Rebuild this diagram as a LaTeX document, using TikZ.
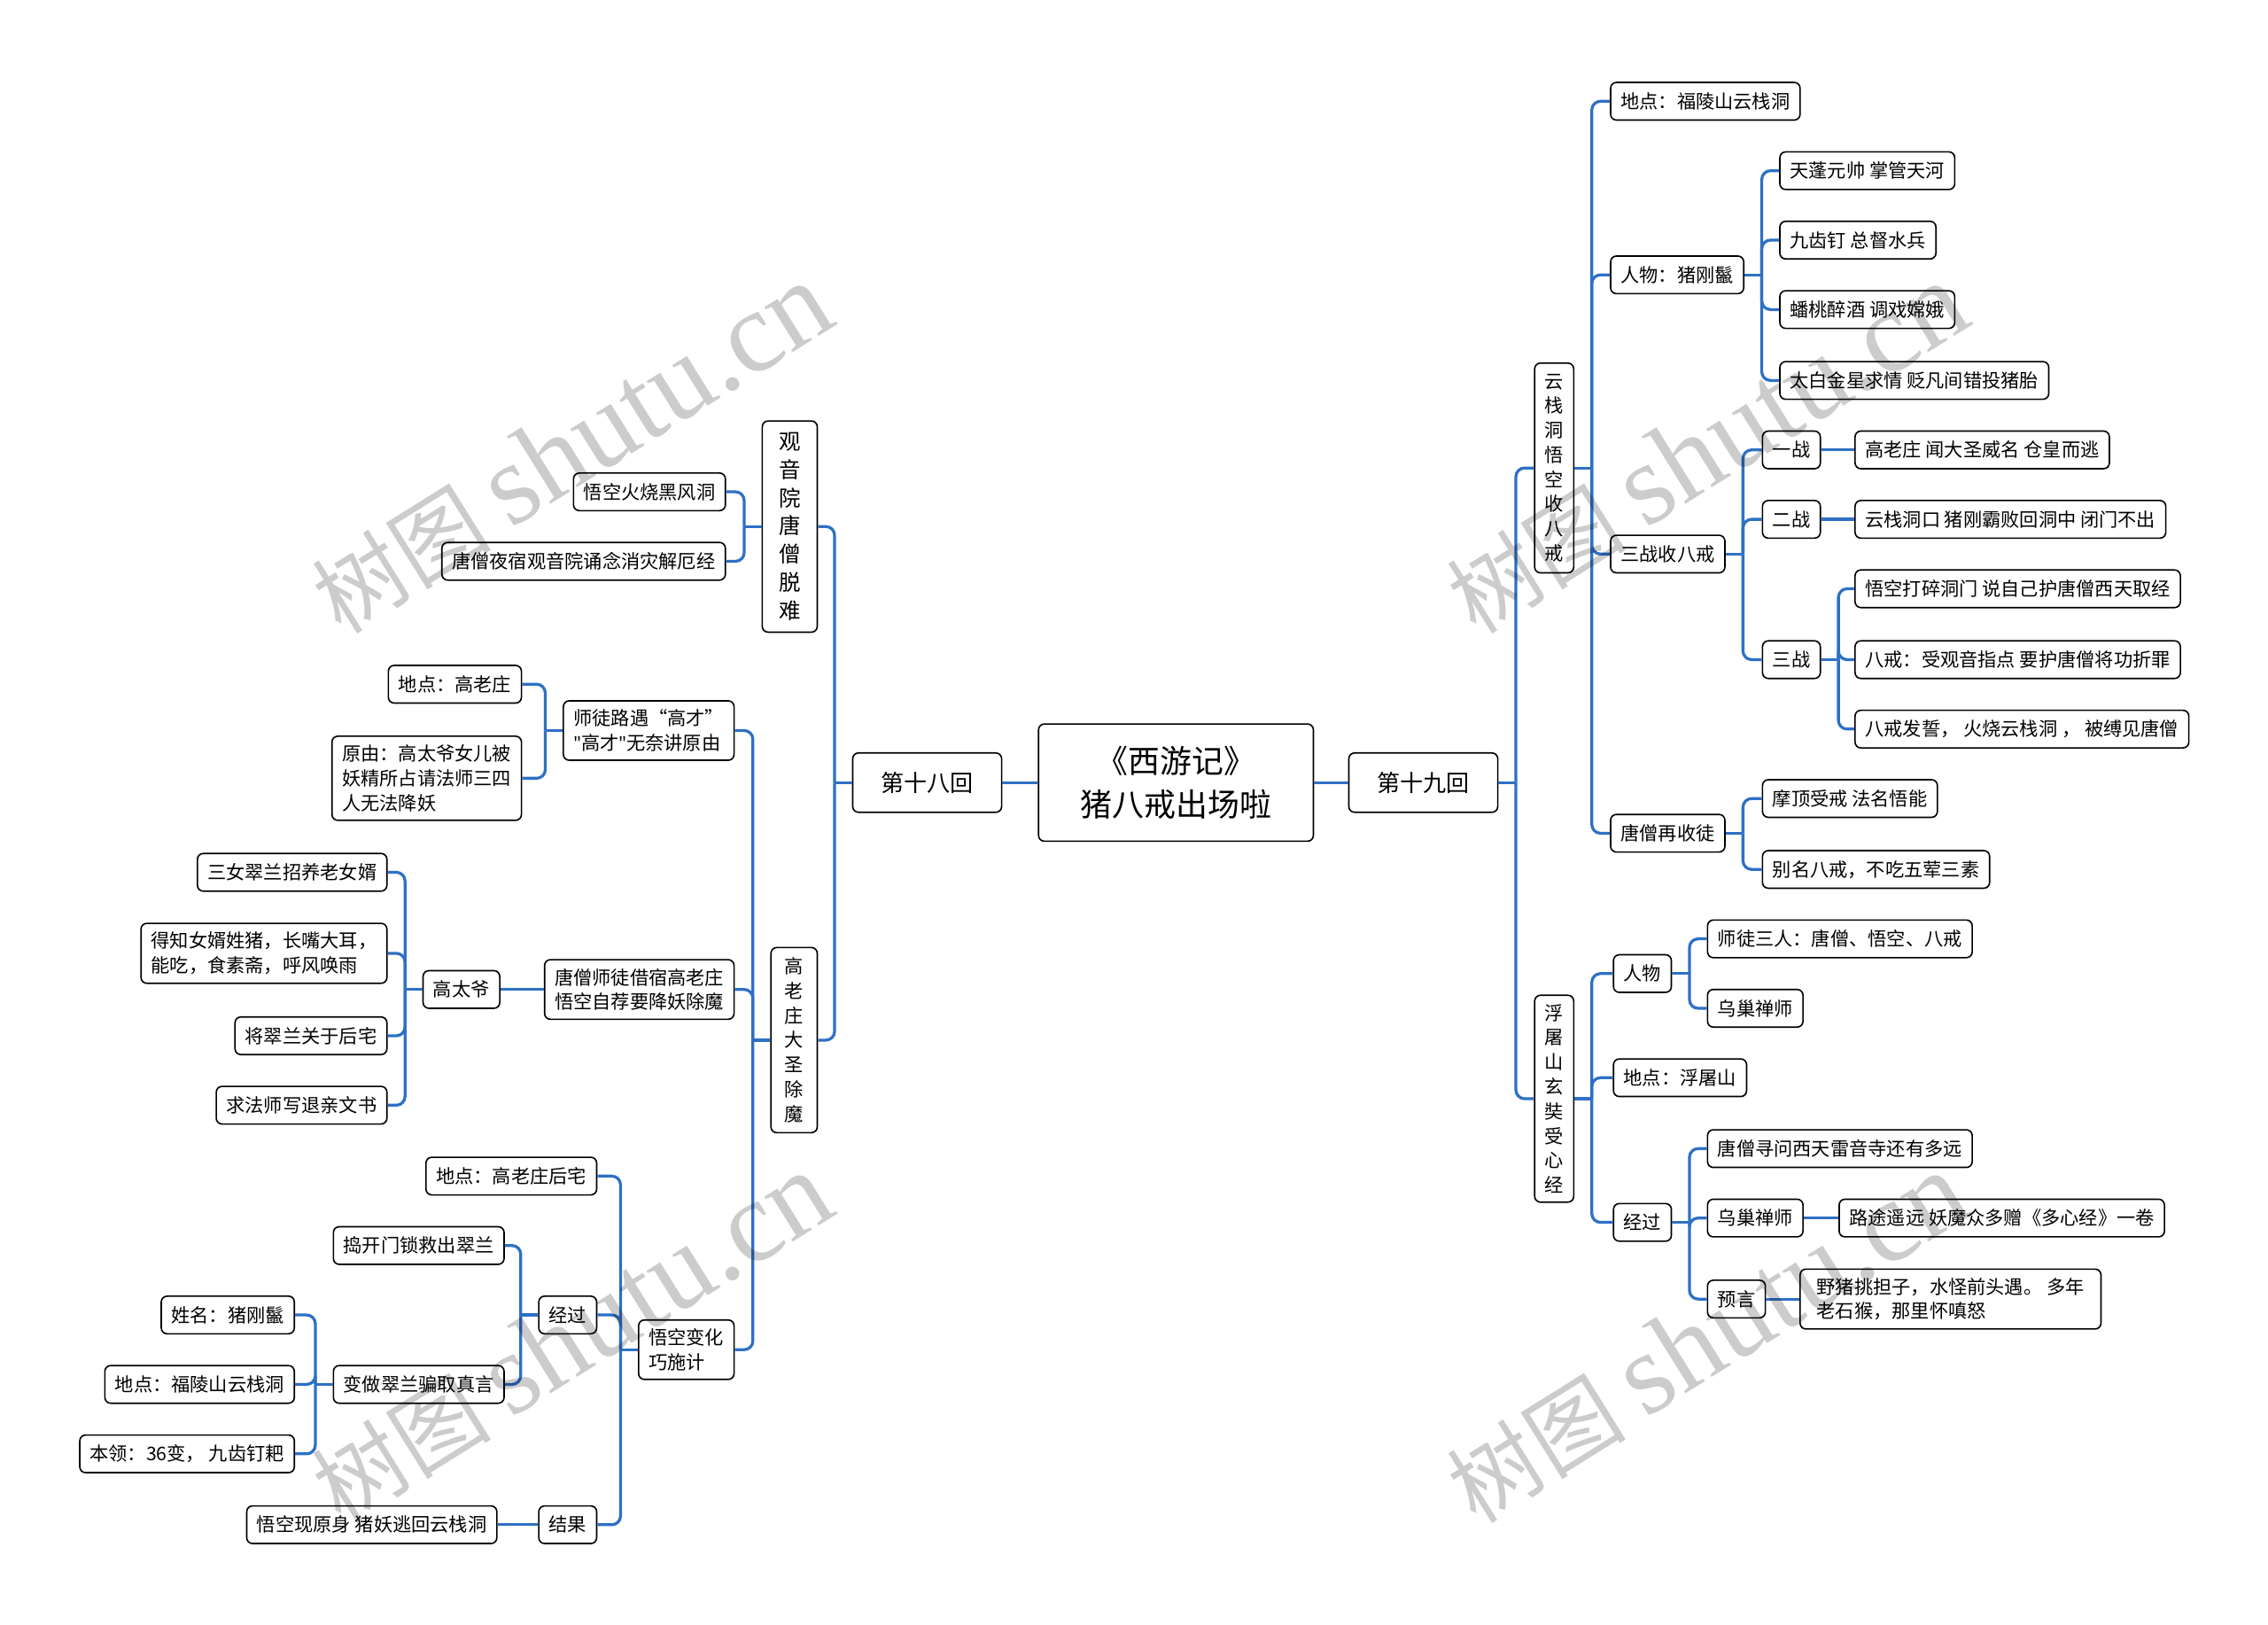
\documentclass[tikz,border=0pt]{standalone}
\usepackage{fontspec}
\setmainfont{Noto Sans CJK SC}
\newfontfamily\wmlatin{Liberation Serif}
\newfontfamily\latinsans{Noto Sans}
\usetikzlibrary{positioning,calc}
\definecolor{linkblue}{RGB}{46,112,197}
\newcommand{\sq}{{\latinsans\symbol{34}}}

\begin{document}
\begin{tikzpicture}
	[x=1pt,y=-1pt,
	every node/.style={font=\fontsize{13}{17}\selectfont},
	box/.style={draw, line width=1pt, rounded corners=4pt, fill=white, align=left, inner xsep=7pt, inner ysep=6pt, minimum height=26pt},
	vbox/.style={box, align=center, inner xsep=0pt, inner ysep=5pt},
	link/.style={draw=linkblue, line width=2pt, rounded corners=6pt},
	wm/.style={text=black, text opacity=0.2, rotate=32, inner sep=0pt, font=\fontsize{62}{62}\selectfont}]
	\useasboundingbox[fill=white] (0,0) rectangle (1568,1123);
	% centre
	\node (root) [box, align=center, minimum width=190pt, minimum height=81pt, font=\fontsize{22}{30}\selectfont] at (813,541) {《西游记》\\猪八戒出场啦};
	\node (r18) [box, align=center, minimum width=103pt, minimum height=41pt, font=\fontsize{16}{20}\selectfont, anchor=east] at (693,541) {第十八回};
	\node (r19) [box, align=center, minimum width=103pt, minimum height=41pt, font=\fontsize{16}{20}\selectfont, anchor=west] at (932,541) {第十九回};
	
	% right: 第十九回
	\node (yzd) [vbox, minimum width=27pt, minimum height=145pt] at (1074.5,323.5) {云\\栈\\洞\\悟\\空\\收\\八\\戒};
	\node (fts) [vbox, minimum width=27pt, minimum height=143pt] at (1074.5,759.5) {浮\\屠\\山\\玄\\奘\\受\\心\\经};
	\begin{scope}[every node/.append style={box, anchor=west}]
		\node (y1) at (1113,70) {地点：福陵山云栈洞};
		\node (y2) at (1113,190) {人物：猪刚鬣};
		\node (y3) at (1113,383) {三战收八戒};
		\node (y4) at (1113,576) {唐僧再收徒};
		\node (y21) at (1230,118) {天蓬元帅 掌管天河};
		\node (y22) at (1230,166) {九齿钉 总督水兵};
		\node (y23) at (1230,214) {蟠桃醉酒 调戏嫦娥};
		\node (y24) at (1230,263) {太白金星求情 贬凡间错投猪胎};
		\node (zhan1) at (1218,311) {一战};
		\node (zhan2) at (1218,359) {二战};
		\node (zhan3) at (1218,456) {三战};
		\node (z1a) at (1282,311) {高老庄 闻大圣威名 仓皇而逃};
		\node (z2a) at (1282,359) {云栈洞口 猪刚霸败回洞中 闭门不出};
		\node (z3a) at (1282,407) {悟空打碎洞门 说自己护唐僧西天取经};
		\node (z3b) at (1282,456) {八戒：受观音指点 要护唐僧将功折罪};
		\node (z3c) at (1282,504) {八戒发誓， 火烧云栈洞 ， 被缚见唐僧};
		\node (y41) at (1218,552) {摩顶受戒 法名悟能};
		\node (y42) at (1218,601) {别名八戒，不吃五荤三素};
		\node (f1) at (1115,673) {人物};
		\node (f2) at (1115,745) {地点：浮屠山};
		\node (f3) at (1115,845) {经过};
		\node (f11) at (1180,649) {师徒三人：唐僧、悟空、八戒};
		\node (f12) at (1180,697) {乌巢禅师};
		\node (f31) at (1180,794) {唐僧寻问西天雷音寺还有多远};
		\node (f32) at (1180,842) {乌巢禅师};
		\node (f33) at (1180,898) {预言};
		\node (f32a) at (1271,842) {路途遥远 妖魔众多赠《多心经》一卷};
		\node (f33a) [minimum width=208pt] at (1244,898) {野猪挑担子，水怪前头遇。 多年\\老石猴，那里怀嗔怒};
	\end{scope}
	
	% left: 第十八回
	\node (gyy) [vbox, minimum width=38pt, minimum height=146pt, font=\fontsize{15}{19.5}\selectfont] at (546,364) {观\\音\\院\\唐\\僧\\脱\\难};
	\node (glz) [vbox, minimum width=32pt, minimum height=128pt] at (549,719) {高\\老\\庄\\大\\圣\\除\\魔};
	\begin{scope}[every node/.append style={box, anchor=east}]
		\node (g1) at (502,340) {悟空火烧黑风洞};
		\node (g2) at (502,388) {唐僧夜宿观音院诵念消灾解厄经};
		\node (h1) at (508,505) {师徒路遇“高才”\\\sq 高才\sq 无奈讲原由};
		\node (h2) at (508,684) {唐僧师徒借宿高老庄\\悟空自荐要降妖除魔};
		\node (h3) at (508,933) {悟空变化\\巧施计};
		\node (h11) at (361,473) {地点：高老庄};
		\node (h12) at (361,538) {原由：高太爷女儿被\\妖精所占请法师三四\\人无法降妖};
		\node (gty) at (346,684) {高太爷};
		\node (t1) at (268,603) {三女翠兰招养老女婿};
		\node (t2) at (268,659) {得知女婿姓猪，长嘴大耳，\\能吃，食素斋，呼风唤雨};
		\node (t3) at (268,716) {将翠兰关于后宅};
		\node (t4) at (268,764) {求法师写退亲文书};
		\node (w1) at (413,813) {地点：高老庄后宅};
		\node (w2) at (413,909) {经过};
		\node (w3) at (413,1054) {结果};
		\node (w21) at (349,861) {捣开门锁救出翠兰};
		\node (w22) at (349,957) {变做翠兰骗取真言};
		\node (w221) at (204,909) {姓名：猪刚鬣};
		\node (w222) at (204,957) {地点：福陵山云栈洞};
		\node (w223) at (204,1005) {本领：36变， 九齿钉耙};
		\node (w31) at (344,1054) {悟空现原身 猪妖逃回云栈洞};
	\end{scope}
	
	% straight links
	\draw[link] (root.west) -- (r18.east);
	\draw[link] (root.east) -- (r19.west);
	\draw[link] (zhan1.east) -- (z1a.west);
	\draw[link] (zhan2.east) -- (z2a.west);
	\draw[link] (f32.east) -- (f32a.west);
	\draw[link] (f33.east) -- (f33a.west);
	\draw[link] (h2.west) -- (gty.east);
	\draw[link] (w3.west) -- (w31.east);
	
	% elbow links, right side
	\foreach \p/\c in {r19/yzd, r19/fts, yzd/y1, yzd/y2, yzd/y3, yzd/y4, y2/y21, y2/y22, y2/y23, y2/y24, y3/zhan1, y3/zhan2, y3/zhan3, zhan3/z3a, zhan3/z3b, zhan3/z3c, y4/y41, y4/y42, fts/f1, fts/f2, fts/f3, f1/f11, f1/f12, f3/f31, f3/f32, f3/f33}{
		\draw[link] (\p.east) -- ++(12,0);
		\draw[link] ([xshift=12pt]\p.east) |- (\c.west);
	}
	% elbow links, left side
	\foreach \p/\c in {r18/gyy, r18/glz, gyy/g1, gyy/g2, glz/h1, glz/h2, glz/h3, h1/h11, h1/h12, gty/t1, gty/t2, gty/t3, gty/t4, h3/w1, h3/w2, h3/w3, w2/w21, w2/w22, w22/w221, w22/w222, w22/w223}{
		\draw[link] (\p.west) -- ++(-12,0);
		\draw[link] ([xshift=-12pt]\p.west) |- (\c.east);
	}
	
	% watermark
	\foreach \n/\x/\y in {1/395/310, 2/1180/310, 3/395/925, 4/1180/925}
		\node (wm\n) [wm] at (\x,\y) {树图 {\wmlatin\fontsize{80}{80}\selectfont shutu.cn}};
\end{tikzpicture}
\end{document}
